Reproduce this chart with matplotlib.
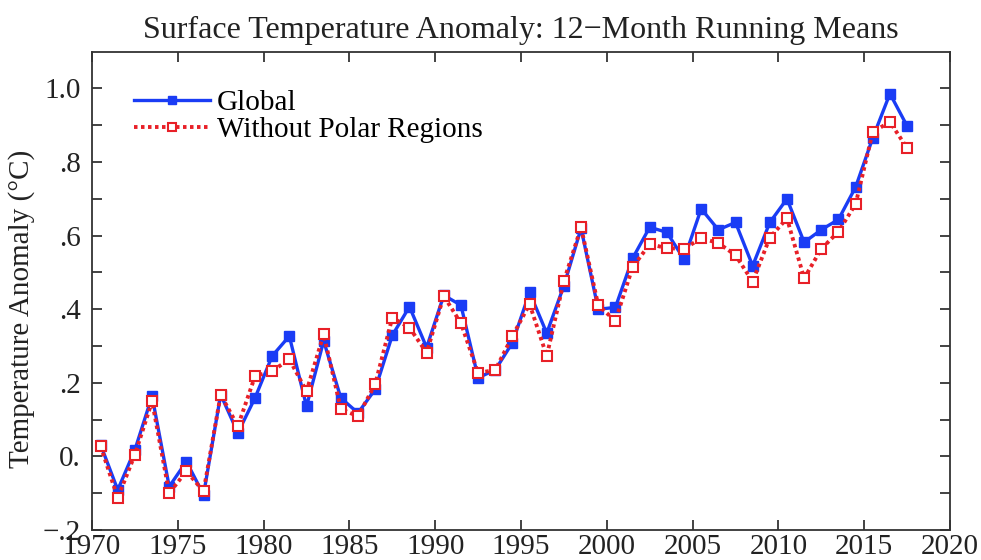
import matplotlib
matplotlib.use("Agg")
import matplotlib.pyplot as plt
from matplotlib.ticker import FixedLocator, FixedFormatter

years = [1970.5 + i for i in range(48)]

global_anom = [0.032, -0.091, 0.018, 0.164, -0.082, -0.014, -0.104, 0.168, 0.064, 0.159,
               0.273, 0.327, 0.136, 0.314, 0.159, 0.118, 0.182, 0.329, 0.407, 0.296,
               0.438, 0.411, 0.214, 0.235, 0.309, 0.446, 0.335, 0.464, 0.620, 0.400,
               0.405, 0.538, 0.623, 0.609, 0.536, 0.673, 0.616, 0.636, 0.518, 0.636,
               0.700, 0.582, 0.616, 0.644, 0.732, 0.866, 0.986, 0.898]

no_polar_anom = [0.028, -0.113, 0.005, 0.150, -0.100, -0.040, -0.095, 0.168, 0.082, 0.218,
                 0.232, 0.264, 0.177, 0.332, 0.129, 0.109, 0.196, 0.377, 0.350, 0.282,
                 0.436, 0.362, 0.227, 0.235, 0.327, 0.414, 0.273, 0.477, 0.623, 0.411,
                 0.368, 0.514, 0.577, 0.566, 0.564, 0.593, 0.580, 0.547, 0.475, 0.595,
                 0.647, 0.484, 0.564, 0.611, 0.686, 0.882, 0.909, 0.838]

x_ticks = [1970, 1975, 1980, 1985, 1990, 1995, 2000, 2005, 2010, 2015, 2020]
y_ticks = [-0.2, 0.0, 0.2, 0.4, 0.6, 0.8, 1.0]
y_tick_labels = ["\u2212.2", "0.", ".2", ".4", ".6", ".8", "1.0"]
y_minor = [-0.1, 0.1, 0.3, 0.5, 0.7, 0.9]

title = "Surface Temperature Anomaly: 12\u2212Month Running Means"
ylabel = "Temperature Anomaly (\u00b0C)"
labels = ["Global", "Without Polar Regions"]

plt.rcParams['font.family'] = ['Liberation Serif', 'DejaVu Serif']

fig = plt.figure(figsize=(9.81, 5.6), dpi=100)
ax = fig.add_axes([92/981, 1 - 530/560, (950 - 92)/981, (530 - 51.7)/560])

blue = '#1a3cf5'
red = '#e82028'

ax.plot(years, global_anom, color=blue, lw=2.4, ls='-', marker='s', ms=7,
        mfc=blue, mec=blue, label=labels[0], zorder=3)
ax.plot(years, no_polar_anom, color=red, lw=2.8, ls=(0, (0.9, 0.9)), marker='s', ms=6.5,
        mfc='white', mec=red, mew=1.5, label=labels[1], zorder=4)

ax.set_xlim(1970, 2020)
ax.set_ylim(-0.2, 1.1)
ax.xaxis.set_major_locator(FixedLocator(x_ticks))
ax.yaxis.set_major_locator(FixedLocator(y_ticks))
ax.yaxis.set_major_formatter(FixedFormatter(y_tick_labels))
ax.yaxis.set_minor_locator(FixedLocator(y_minor))

ax.tick_params(which='both', direction='in', top=True, right=True, length=7.5, width=1.2,
               labelsize=21, colors='#222222')
ax.tick_params(axis='x', pad=3)
ax.tick_params(axis='y', pad=8)
for s in ax.spines.values():
    s.set_linewidth(1.3)
    s.set_color('#333333')

ax.set_title(title, fontsize=23, pad=10, color='#222222')
ax.set_ylabel(ylabel, fontsize=21, color='#222222')
ax.yaxis.set_label_coords(-0.066, 0.462)

leg = ax.legend(loc='upper left', bbox_to_anchor=(0.035, 0.945), frameon=False,
                fontsize=21, handlelength=2.6, handletextpad=0.25, labelspacing=0.02,
                numpoints=1, borderaxespad=0, markerscale=0.85)

fig.savefig('out.png', dpi=100, facecolor='white')
